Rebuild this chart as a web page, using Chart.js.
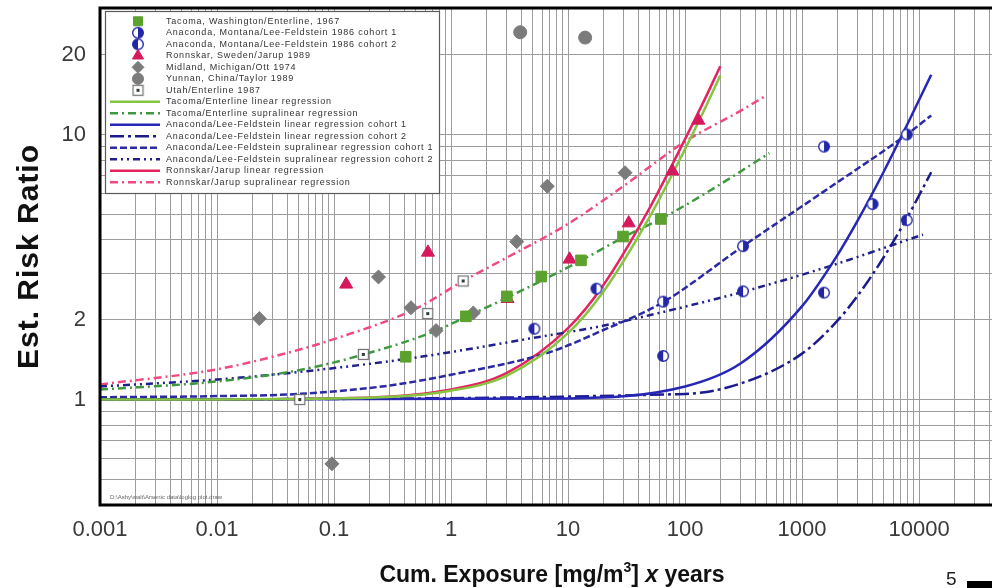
<!DOCTYPE html>
<html lang="en">
<head>
  <meta charset="UTF-8" />
  <title>Arsenic exposure - estimated risk ratio</title>
  <script src="https://cdn.jsdelivr.net/npm/chart.js"></script>
  <style>
    body {
      margin: 0;
      background: #fff;
      font-family: 'Liberation Sans', Arial, sans-serif;
    }
    .wrap {
      position: relative;
      width: 992px;
      height: 588px;
      overflow: hidden;
    }
    .page-no {
      position: absolute;
      left: 946px;
      top: 568px;
      font-size: 19px;
      color: #222;
    }
    .page-bar {
      position: absolute;
      left: 967px;
      top: 581px;
      width: 30px;
      height: 7px;
      background: #000;
    }
  </style>
</head>
<body>
  <div class="wrap">
    <canvas id="riskChart" width="992" height="588"></canvas>
    <span class="page-no">5</span><span class="page-bar"></span>
  </div>

  <script>
    const family = "'Liberation Sans', Arial, Helvetica, sans-serif";
    Chart.defaults.font.family = family;

    // observed risk ratios (x = cumulative exposure, mg/m3 x years)
    const tacomaX = [0.41, 1.34, 3.0, 5.9, 12.9, 29.5, 62];
    const tacomaY = [1.45, 2.06, 2.45, 2.91, 3.35, 4.12, 4.80];

    const anaconda1X = [65, 313, 1540, 4000, 7850];
    const anaconda1Y = [2.34, 3.79, 9.0, 5.46, 10.0];
    const anaconda2X = [5.15, 17.5, 65, 313, 1540, 7850];
    const anaconda2Y = [1.85, 2.62, 1.46, 2.56, 2.53, 4.75];

    const ronnskarX = [0.127, 0.635, 3.04, 10.3, 33, 78, 130];
    const ronnskarY = [2.72, 3.59, 2.40, 3.38, 4.63, 7.27, 11.3];

    const midlandX = [0.023, 0.096, 0.24, 0.455, 0.745, 1.55, 3.64, 6.65, 30.7];
    const midlandY = [2.02, 0.572, 2.90, 2.22, 1.82, 2.12, 3.94, 6.38, 7.17];

    const yunnanX = [3.9, 14];
    const yunnanY = [24.3, 23.2];

    const utahX = [0.051, 0.178, 0.632, 1.27];
    const utahY = [1.0, 1.48, 2.11, 2.80];

    // fitted regression curves, sampled along each line
    const tacomaLinX = [0.001, 0.1, 1, 3, 10, 20, 50, 100, 150, 200];
    const tacomaLinY = [1, 1.01, 1.08, 1.23, 1.78, 2.55, 4.9, 8.8, 12.7, 16.7];
    const tacomaSupX = [0.001, 0.01, 0.05, 0.18, 0.75, 1.34, 3, 13, 30, 62, 150, 525];
    const tacomaSupY = [1.09, 1.17, 1.29, 1.48, 1.82, 2.05, 2.42, 3.35, 4.1, 4.8, 6.0, 8.5];

    const anacondaLin1X = [0.001, 10, 100, 300, 1000, 2000, 3000, 5000, 8000, 12700];
    const anacondaLin1Y = [1, 1.01, 1.12, 1.37, 2.25, 3.5, 4.75, 7.25, 11.0, 16.8];
    const anacondaLin2X = [0.001, 100, 300, 1000, 2000, 3000, 5000, 8000, 12700];
    const anacondaLin2Y = [1, 1.05, 1.15, 1.49, 1.98, 2.47, 3.45, 4.9, 7.2];

    const anacondaSup1X = [0.001, 0.01, 0.05, 0.3, 1, 7, 19, 65, 313, 1540, 7850, 12700];
    const anacondaSup1Y = [1.02, 1.03, 1.05, 1.13, 1.24, 1.51, 1.81, 2.33, 3.79, 6.1, 10.0, 11.8];
    const anacondaSup2X = [0.001, 0.01, 0.05, 0.5, 6, 19, 65, 313, 1700, 10800];
    const anacondaSup2Y = [1.12, 1.19, 1.27, 1.44, 1.73, 1.89, 2.14, 2.55, 3.18, 4.19];

    const ronnskarLinX = [0.001, 0.1, 1, 3, 10, 20, 50, 100, 150, 200];
    const ronnskarLinY = [1, 1.01, 1.09, 1.26, 1.86, 2.7, 5.3, 9.6, 13.8, 18.1];
    const ronnskarSupX = [0.001, 0.01, 0.05, 0.1, 0.5, 1.27, 3, 10, 30, 100, 300, 490];
    const ronnskarSupY = [1.14, 1.30, 1.54, 1.69, 2.2, 2.8, 3.43, 4.6, 6.4, 9.4, 12.3, 14.0];

    // axes
    const xTickValues = [0.001, 0.01, 0.1, 1, 10, 100, 1000, 10000];
    const xTickText = ['0.001', '0.01', '0.1', '1', '10', '100', '1000', '10000'];
    const yTickValues = [1, 2, 10, 20];
    const yTickText = ['1', '2', '10', '20'];
    const xMin = 0.001, xMax = 42000;
    const yMin = 0.4, yMax = 30;

    const pts = (xs, ys) => xs.map((x, i) => ({ x: x, y: ys[i] }));

    // 1..9 x 10^n grid positions between lo and hi
    function decadeGrid(lo, hi) {
      const out = [];
      for (let e = Math.floor(Math.log10(lo)); e <= Math.ceil(Math.log10(hi)); e++) {
        for (let m = 1; m <= 9; m++) {
          const v = Number((m * Math.pow(10, e)).toPrecision(3));
          if (v >= lo && v <= hi) out.push(v);
        }
      }
      return out;
    }

    function tickLabel(values, texts) {
      return v => {
        const i = values.findIndex(t => Math.abs(t - v) / t < 1e-6);
        return i < 0 ? '' : texts[i];
      };
    }

    // scales keep no edge padding, so the plot frame sits where the layout puts it
    function fixSize(prop, size) {
      return s => {
        s[prop] = size;
        s.paddingTop = 0; s.paddingBottom = 0;
        s.paddingLeft = 0; s.paddingRight = 0;
      };
    }

    // circle with one half filled, used for the two Anaconda cohorts
    function halfDot(side, color) {
      const c = document.createElement('canvas');
      c.width = 14; c.height = 14;
      const g = c.getContext('2d');
      g.beginPath(); g.arc(7, 7, 5.3, 0, Math.PI * 2);
      g.fillStyle = '#fff'; g.fill();
      g.beginPath();
      if (side === 'left') g.arc(7, 7, 5.3, Math.PI / 2, Math.PI * 1.5);
      else g.arc(7, 7, 5.3, -Math.PI / 2, Math.PI / 2);
      g.closePath(); g.fillStyle = color; g.fill();
      g.beginPath(); g.arc(7, 7, 5.3, 0, Math.PI * 2);
      g.lineWidth = 1.4; g.strokeStyle = color; g.stroke();
      return c;
    }

    // open grey square with a dot in the middle
    function dotSquare() {
      const c = document.createElement('canvas');
      c.width = 13; c.height = 13;
      const g = c.getContext('2d');
      g.fillStyle = '#fff'; g.fillRect(1, 1, 11, 11);
      g.strokeStyle = '#6f6f6f'; g.lineWidth = 1.2; g.strokeRect(1.5, 1.5, 10, 10);
      g.fillStyle = '#2f3f35'; g.fillRect(5, 5, 3, 3);
      return c;
    }

    const blue = '#2226a8';

    function markers(label, data, style, color, radius) {
      return {
        label: label, data: data, order: 0,
        pointStyle: style, pointRadius: radius, pointHoverRadius: radius,
        backgroundColor: color, borderColor: color, pointBorderWidth: 1,
        showLine: false
      };
    }

    function curve(label, data, color, dash) {
      return {
        label: label, data: data, order: 1,
        showLine: true, pointRadius: 0, pointHoverRadius: 0,
        borderColor: color, backgroundColor: color,
        borderWidth: 2.5, borderDash: dash,
        cubicInterpolationMode: 'monotone'
      };
    }

    const datasets = [
      markers('Tacoma, Washington/Enterline, 1967', pts(tacomaX, tacomaY), 'rect', '#5ba12e', 7.5),
      markers('Anaconda, Montana/Lee-Feldstein 1986 cohort 1', pts(anaconda1X, anaconda1Y), halfDot('right', blue), blue, 6),
      markers('Anaconda, Montana/Lee-Feldstein 1986 cohort 2', pts(anaconda2X, anaconda2Y), halfDot('left', blue), blue, 6),
      markers('Ronnskar, Sweden/Jarup 1989', pts(ronnskarX, ronnskarY), 'triangle', '#d6185c', 7.5),
      markers('Midland, Michigan/Ott 1974', pts(midlandX, midlandY), 'rectRot', '#7b7b7b', 7),
      markers('Yunnan, China/Taylor 1989', pts(yunnanX, yunnanY), 'circle', '#7b7b7b', 6.5),
      markers('Utah/Enterline 1987', pts(utahX, utahY), dotSquare(), '#6f6f6f', 6),
      curve('Tacoma/Enterline linear regression', pts(tacomaLinX, tacomaLinY), '#86c540', []),
      curve('Tacoma/Enterline supralinear regression', pts(tacomaSupX, tacomaSupY), '#3f9a3f', [8, 4, 2, 4]),
      curve('Anaconda/Lee-Feldstein linear regression cohort 1', pts(anacondaLin1X, anacondaLin1Y), '#2727b5', []),
      curve('Anaconda/Lee-Feldstein linear regression cohort 2', pts(anacondaLin2X, anacondaLin2Y), '#1b1b8e', [14, 4, 3, 4]),
      curve('Anaconda/Lee-Feldstein supralinear regression cohort 1', pts(anacondaSup1X, anacondaSup1Y), '#2a2aa2', [7, 3]),
      curve('Anaconda/Lee-Feldstein supralinear regression cohort 2', pts(anacondaSup2X, anacondaSup2Y), '#20208c', [7, 4, 2, 4, 2, 4]),
      curve('Ronnskar/Jarup linear regression', pts(ronnskarLinX, ronnskarLinY), '#e3245f', []),
      curve('Ronnskar/Jarup supralinear regression', pts(ronnskarSupX, ronnskarSupY), '#f04a80', [8, 4, 2, 4])
    ];

    // legend box, frame and axis titles
    const decorations = {
      id: 'decorations',
      afterDatasetsDraw(chart) {
        const c = chart.ctx;
        const box = { left: 105, top: 11, right: 439, bottom: 193 };
        c.save();
        c.fillStyle = '#fff';
        c.fillRect(box.left, box.top, box.right - box.left, box.bottom - box.top);
        c.strokeStyle = '#5a5a5a';
        c.lineWidth = 1.2;
        c.strokeRect(box.left + 0.5, box.top + 0.5, box.right - box.left, box.bottom - box.top);

        chart.data.datasets.forEach((ds, i) => {
          const y = 21.3 + i * 11.5;
          if (ds.showLine) {
            c.beginPath();
            c.setLineDash(ds.borderDash || []);
            c.lineWidth = 2.5;
            c.strokeStyle = ds.borderColor;
            c.moveTo(110, y);
            c.lineTo(160, y);
            c.stroke();
            c.setLineDash([]);
          } else {
            c.fillStyle = ds.backgroundColor;
            c.strokeStyle = ds.borderColor;
            c.lineWidth = 1;
            Chart.helpers.drawPoint(c, {
              pointStyle: ds.pointStyle, rotation: 0,
              radius: ds.pointRadius * 0.85, borderWidth: 1
            }, 138, y);
          }
          c.fillStyle = '#333';
          c.font = '9px ' + family;
          c.letterSpacing = '0.8px';
          c.textBaseline = 'middle';
          c.textAlign = 'left';
          c.fillText(ds.label, 166, y);
        });

        c.letterSpacing = '0px';
        c.fillStyle = '#666';
        c.font = '6px ' + family;
        c.textBaseline = 'alphabetic';
        c.fillText('D:\\Ashy\\walt\\Arsenic data\\loglog plot.draw', 110, 499);
        c.restore();
      },
      afterDraw(chart) {
        const c = chart.ctx;
        const a = chart.chartArea;
        c.save();
        c.strokeStyle = '#000';
        c.lineWidth = 3;
        c.beginPath();
        c.moveTo(a.right + 2, a.top);
        c.lineTo(a.left, a.top);
        c.lineTo(a.left, a.bottom);
        c.lineTo(a.right + 2, a.bottom);
        c.stroke();

        // y title
        c.fillStyle = '#111';
        c.save();
        c.translate(38, (a.top + a.bottom) / 2);
        c.rotate(-Math.PI / 2);
        c.font = 'bold 30px ' + family;
        c.letterSpacing = '1px';
        c.textAlign = 'center';
        c.textBaseline = 'alphabetic';
        c.fillText('Est. Risk Ratio', 0, 0);
        c.restore();

        // x title with superscript and italic x
        const parts = [
          { t: 'Cum. Exposure [mg/m', f: 'bold 23px ' + family, dy: 0 },
          { t: '3', f: 'bold 14px ' + family, dy: -10 },
          { t: '] ', f: 'bold 23px ' + family, dy: 0 },
          { t: 'x', f: 'italic bold 23px ' + family, dy: 0 },
          { t: ' years', f: 'bold 23px ' + family, dy: 0 }
        ];
        let total = 0;
        parts.forEach(p => { c.font = p.f; p.w = c.measureText(p.t).width; total += p.w; });
        let x = 552 - total / 2;
        c.textAlign = 'left';
        c.textBaseline = 'alphabetic';
        parts.forEach(p => {
          c.font = p.f;
          c.fillText(p.t, x, 582 + p.dy);
          x += p.w;
        });
        c.restore();
      }
    };

    new Chart(document.getElementById('riskChart').getContext('2d'), {
      type: 'scatter',
      data: { datasets: datasets },
      options: {
        responsive: false,
        animation: false,
        events: [],
        layout: { autoPadding: false, padding: { top: 8, left: 0, right: 0, bottom: 0 } },
        plugins: {
          legend: { display: false },
          tooltip: { enabled: false }
        },
        scales: {
          x: {
            type: 'logarithmic',
            min: xMin,
            max: xMax,
            afterBuildTicks: s => { s.ticks = decadeGrid(xMin, xMax).map(v => ({ value: v })); },
            afterFit: fixSize('height', 83),
            ticks: {
              callback: tickLabel(xTickValues, xTickText),
              autoSkip: false, maxRotation: 0, minRotation: 0,
              padding: 12,
              color: '#3a3a3a',
              font: { size: 22 }
            },
            grid: { color: '#9c9c9c', lineWidth: 1, drawTicks: false },
            border: { display: false }
          },
          y: {
            type: 'logarithmic',
            min: yMin,
            max: yMax,
            afterBuildTicks: s => { s.ticks = decadeGrid(yMin, 20).map(v => ({ value: v })); },
            afterFit: fixSize('width', 100),
            ticks: {
              callback: tickLabel(yTickValues, yTickText),
              autoSkip: false,
              padding: 14,
              color: '#3a3a3a',
              font: { size: 22 }
            },
            grid: { color: '#9c9c9c', lineWidth: 1, drawTicks: false },
            border: { display: false }
          }
        }
      },
      plugins: [decorations]
    });
  </script>
</body>
</html>
